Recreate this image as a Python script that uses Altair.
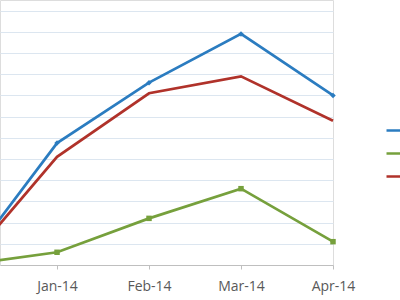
import altair as alt
import pandas as pd

months = ["Dec-13", "Jan-14", "Feb-14", "Mar-14", "Apr-14"]
month_idx = [0, 1, 2, 3, 4]
series_names = ["Series 1", "Series 2", "Series 3"]
blue_vals = [0, 57.5, 86, 109, 80]
green_vals = [0, 6, 22, 36, 11]
red_vals = [0, 51, 81, 89, 68]
colors = ["#2B7CC0", "#76A03C", "#B0322A"]

rows = []
for name, vals in zip(series_names, [blue_vals, green_vals, red_vals]):
    for m, i, v in zip(months, month_idx, vals):
        rows.append({"series": name, "month": m, "idx": i, "value": v})
df = pd.DataFrame(rows)

xscale = alt.Scale(domain=[0.38, 4], nice=False, zero=False)
yscale = alt.Scale(domain=[0, 125], nice=False)

x = alt.X("idx:Q", scale=xscale, title=None,
          axis=alt.Axis(values=[1, 2, 3, 4], grid=False, labelFlush=False,
                        labelExpr="['Dec-13','Jan-14','Feb-14','Mar-14','Apr-14'][datum.value]",
                        domainColor="#BFBFBF", tickColor="#BFBFBF", tickSize=4,
                        labelColor="#595959", labelFontSize=14, labelFont="Open Sans",
                        labelPadding=10, labelOverlap=False, labelBound=False))
y = alt.Y("value:Q", scale=yscale, title=None,
          axis=alt.Axis(values=list(range(0, 121, 10)), grid=True, gridColor="#DCE6F0",
                        labels=False, ticks=False, domain=False))

color = alt.Color("series:N", scale=alt.Scale(domain=series_names, range=colors),
                  legend=alt.Legend(orient="none", legendX=385, legendY=119, title=None,
                                    symbolType="stroke", symbolSize=400, symbolStrokeWidth=2.5,
                                    rowPadding=5, padding=0, labelFontSize=12,
                                    labelColor="#595959", labelFont="Open Sans"))

lines = alt.Chart(df).mark_line(strokeWidth=2.7).encode(x=x, y=y, color=color,
                                                         order="idx:Q")

pts = alt.Chart(df).transform_filter(
    alt.FieldOneOfPredicate(field="series", oneOf=["Series 1", "Series 2"])
).mark_point(filled=True, opacity=1).encode(
    x=x, y=y,
    color=alt.Color("series:N", scale=alt.Scale(domain=series_names, range=colors), legend=None),
    shape=alt.Shape("series:N", scale=alt.Scale(domain=["Series 1", "Series 2"],
                                                range=["diamond", "square"]), legend=None),
    size=alt.value(30),
)

chart = alt.layer(lines, pts).properties(
    width=333, height=265,
    autosize=alt.AutoSizeParams(type="none"),
    padding={"left": 0, "top": 0, "right": 67, "bottom": 35},
).configure_view(stroke=None).configure(background="white")

chart.save("out.html", embed_options={"renderer": "svg", "actions": False})
